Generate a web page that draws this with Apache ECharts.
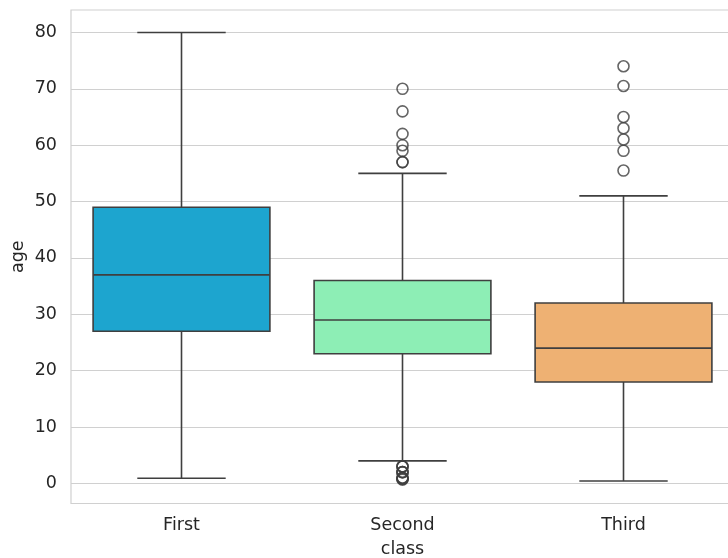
<!DOCTYPE html>
<html><head><meta charset="utf-8">
<script src="https://cdn.jsdelivr.net/npm/echarts@6/dist/echarts.min.js"></script>
<style>html,body{margin:0;padding:0;background:#fff}#c{width:728px;height:558px}</style>
</head><body><div id="c"></div>
<script>
const categories = ['First', 'Second', 'Third'];
// [lower whisker, Q1, median, Q3, upper whisker]
const firstBox = [0.92, 27, 37, 49, 80];
const secondBox = [4, 23, 29, 36, 55];
const thirdBox = [0.42, 18, 24, 32, 51];
const firstOutliers = [];
const secondOutliers = [57, 57, 59, 60, 62, 66, 70, 0.67, 0.83, 0.83, 1, 1, 2, 2, 2, 3, 3, 3];
const thirdOutliers = [55.5, 59, 61, 63, 65, 70.5, 74];
const yTicks = [0, 10, 20, 30, 40, 50, 60, 70, 80];
const boxColors = ['#1DA5CF', '#8DEEB5', '#EEB173'];

const boxes = [firstBox, secondBox, thirdBox];
const outliers = [firstOutliers, secondOutliers, thirdOutliers];
const boxData = boxes.map((b, i) => [i].concat(b));
const outlierData = [];
outliers.forEach((arr, i) => arr.forEach(v => outlierData.push([i, v])));

const lineCol = '#3f3f3f';
const txt = '#262626';
const font = 'DejaVu Sans';

const chart = echarts.init(document.getElementById('c'));
chart.setOption({
  animation: false,
  grid: { left: 71, top: 10, bottom: 54.5, right: -6, show: true, borderColor: '#d0d0d0', borderWidth: 1.2,
          containLabel: false, outerBoundsMode: 'none' },
  xAxis: {
    type: 'category', data: categories,
    name: 'class', nameLocation: 'middle', nameGap: 37, nameMoveOverlap: false,
    nameTextStyle: { fontFamily: font, fontSize: 17.5, color: txt },
    axisLine: { show: false }, axisTick: { show: false },
    axisLabel: { fontFamily: font, fontSize: 17.5, color: txt, margin: 13 },
    splitLine: { show: false }
  },
  yAxis: {
    type: 'value', min: -3.559, max: 83.979,
    name: 'age', nameLocation: 'middle', nameGap: 44, nameMoveOverlap: false,
    nameTextStyle: { fontFamily: font, fontSize: 17.5, color: txt },
    axisLine: { show: false },
    axisTick: { show: false, customValues: yTicks },
    axisLabel: { fontFamily: font, fontSize: 17.5, color: txt, margin: 14, customValues: yTicks },
    splitLine: { show: true, lineStyle: { color: '#d0d0d0', width: 1.2 } }
  },
  series: [
    {
      type: 'custom',
      data: boxData,
      encode: { x: 0, y: [1, 2, 3, 4, 5] },
      renderItem: function (params, api) {
        const idx = api.value(0);
        const lo = api.coord([idx, api.value(1)]);
        const q1 = api.coord([idx, api.value(2)]);
        const med = api.coord([idx, api.value(3)]);
        const q3 = api.coord([idx, api.value(4)]);
        const hi = api.coord([idx, api.value(5)]);
        const bw = api.size([1, 0])[0] * 0.8;
        const cw = bw / 2;
        const cx = q1[0];
        const ls = { stroke: lineCol, lineWidth: 1.6 };
        return {
          type: 'group',
          children: [
            { type: 'line', shape: { x1: cx, y1: q3[1], x2: cx, y2: hi[1] }, style: ls },
            { type: 'line', shape: { x1: cx, y1: q1[1], x2: cx, y2: lo[1] }, style: ls },
            { type: 'line', shape: { x1: cx - cw / 2, y1: hi[1], x2: cx + cw / 2, y2: hi[1] }, style: ls },
            { type: 'line', shape: { x1: cx - cw / 2, y1: lo[1], x2: cx + cw / 2, y2: lo[1] }, style: ls },
            { type: 'rect', shape: { x: cx - bw / 2, y: q3[1], width: bw, height: q1[1] - q3[1] },
              style: { fill: boxColors[idx], stroke: lineCol, lineWidth: 1.6 } },
            { type: 'line', shape: { x1: cx - bw / 2, y1: med[1], x2: cx + bw / 2, y2: med[1] }, style: ls }
          ]
        };
      }
    },
    {
      type: 'scatter',
      data: outlierData,
      symbol: 'circle', symbolSize: 11,
      itemStyle: { color: 'rgba(255,255,255,0)', borderColor: lineCol, borderWidth: 1.6 }
    }
  ]
});
</script></body></html>
